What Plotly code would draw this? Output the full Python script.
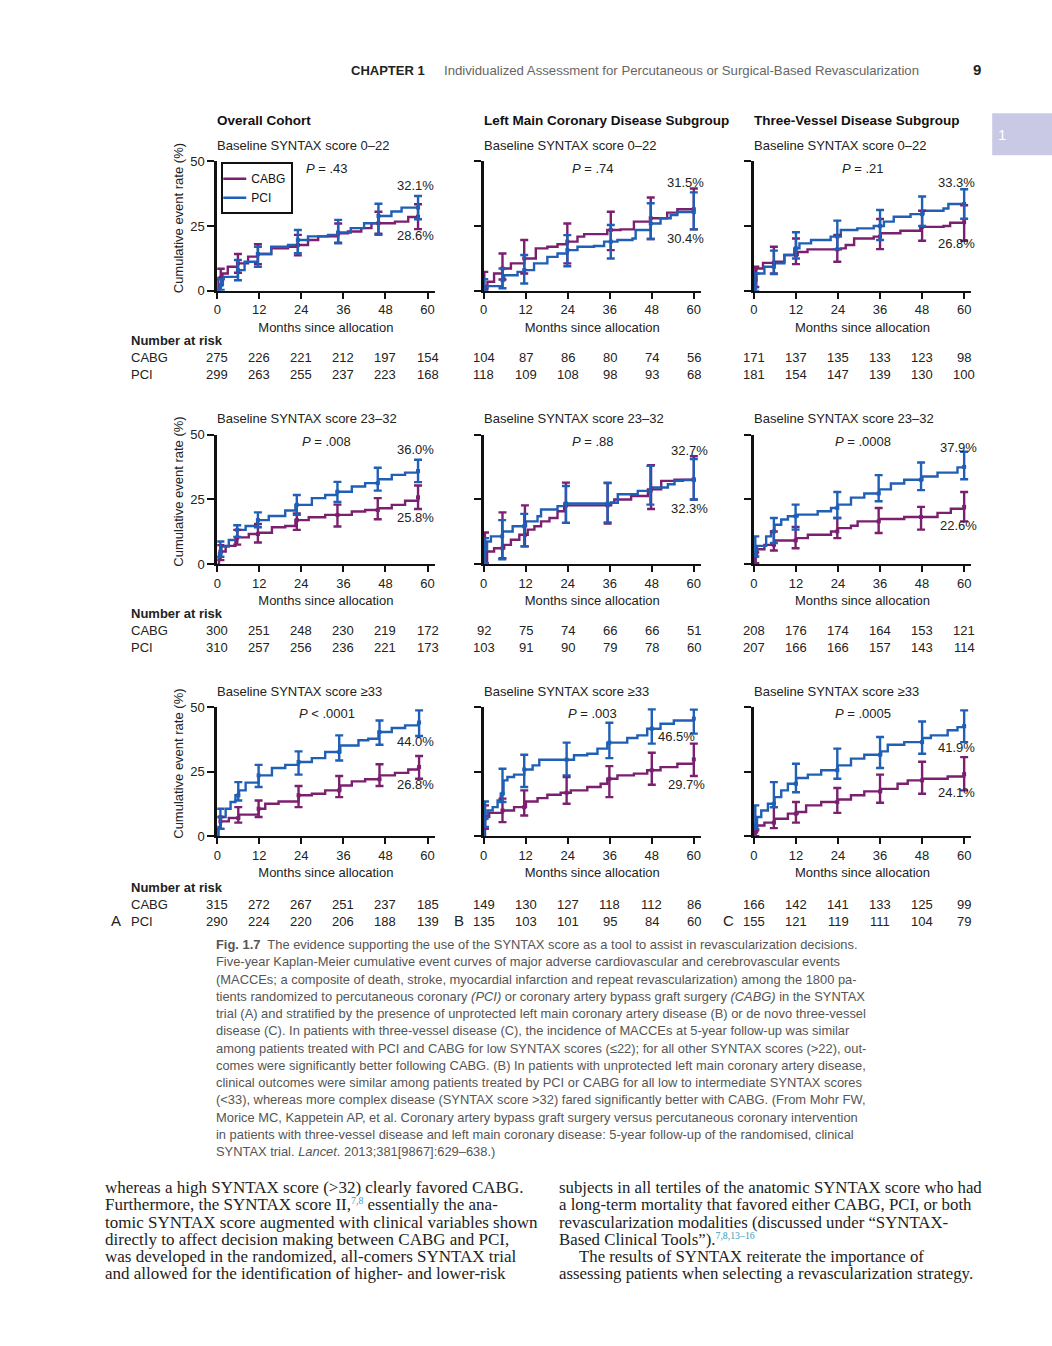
import plotly.graph_objects as go

W, H = 1052, 1346
CABG_COLOR = "#7b1f6f"
PCI_COLOR = "#1f5fb6"
SANS = "Liberation Sans, Arial, sans-serif"
SERIF = "Liberation Serif, Times New Roman, serif"

# ---------------- data (months, cumulative event rate %) ----------------
# A1: overall cohort, SYNTAX 0-22
A1_CABG_T = [0, 0.2, 1.5, 3.0, 5.9, 8.8, 11.6, 15.4, 20.2, 23.0, 25.9, 28.8, 34.5, 37.3, 41.1, 44.0, 50.7, 54.5, 57.3]
A1_CABG_Y = [0, 5.0, 6.7, 9.3, 10.6, 13.2, 14.2, 16.4, 17.0, 17.7, 19.6, 21.0, 22.2, 22.9, 24.2, 26.1, 26.7, 28.5, 28.6]
A1_PCI_T = [0, 0.7, 1.6, 5.9, 7.8, 11.6, 15.4, 20.2, 23.0, 25.9, 31.6, 34.5, 38.1, 41.9, 46.0, 49.7, 52.6, 57.3]
A1_PCI_Y = [0, 2.2, 5.4, 8.0, 11.2, 14.2, 17.0, 17.7, 19.6, 21.0, 21.6, 22.5, 24.2, 26.1, 28.9, 30.6, 32.1, 32.1]
A1_CABG_CI_T = [1.0, 5.9, 11.6, 23.0, 34.5, 46.0, 57.3]
A1_CABG_LO = [4.5, 7.0, 10.3, 13.7, 18.6, 22.0, 23.8]
A1_CABG_HI = [8.5, 14.2, 18.0, 21.6, 26.0, 30.5, 33.4]
A1_PCI_CI_T = [1.0, 5.9, 11.6, 23.0, 34.5, 46.0, 57.3]
A1_PCI_LO = [0.3, 4.1, 9.3, 14.5, 18.3, 21.6, 27.6]
A1_PCI_HI = [4.5, 11.9, 17.0, 23.5, 27.4, 33.6, 36.6]

# B1: left main, SYNTAX 0-22
B1_CABG_T = [0, 0.2, 1.1, 3.0, 5.4, 7.8, 11.6, 14.9, 18.2, 21.1, 23.9, 26.8, 28.7, 35.3, 39.1, 42.9, 47.7, 52.4, 55.3, 60]
B1_CABG_Y = [0, 1.5, 3.5, 6.7, 8.6, 10.6, 12.5, 16.4, 17.0, 18.0, 19.0, 20.9, 21.9, 23.5, 23.7, 26.7, 28.0, 30.2, 31.5, 31.5]
B1_PCI_T = [0, 0.2, 1.1, 5.4, 5.9, 9.7, 11.6, 14.4, 18.2, 21.1, 23.9, 26.8, 31.5, 34.4, 38.2, 42.5, 43.4, 47.7, 50.5, 53.4, 55.3, 60]
B1_PCI_Y = [0, 0.9, 1.8, 4.1, 6.0, 7.3, 8.0, 10.6, 13.1, 14.4, 15.7, 17.0, 17.3, 19.0, 19.6, 20.2, 23.5, 26.0, 28.0, 29.2, 30.4, 30.4]
B1_CABG_CI_T = [0.2, 5.4, 11.6, 23.9, 36.3, 47.7, 60]
B1_CABG_LO = [0.5, 4.4, 6.7, 10.6, 15.7, 20.0, 23.7]
B1_CABG_HI = [7.3, 14.4, 19.6, 26.0, 30.5, 36.0, 39.5]
B1_PCI_CI_T = [0.2, 5.4, 11.6, 23.9, 36.3, 47.7, 60]
B1_PCI_LO = [0.0, 1.0, 2.8, 9.5, 12.5, 20.0, 23.7]
B1_PCI_HI = [4.5, 8.6, 13.8, 21.5, 25.4, 33.8, 38.0]

# C1: three-vessel, SYNTAX 0-22
C1_CABG_T = [0, 0.4, 0.7, 2.6, 5.9, 8.7, 12.5, 15.3, 24.8, 26.2, 28.6, 34.2, 36.1, 41.8, 47.5, 54.1, 56.0, 60]
C1_CABG_Y = [0, 4.1, 8.6, 10.8, 11.2, 13.8, 15.0, 16.0, 16.4, 17.7, 20.2, 20.9, 22.2, 23.2, 24.7, 25.0, 26.3, 26.5]
C1_PCI_T = [0, 0.4, 0.7, 3.0, 5.9, 8.7, 11.5, 13.0, 16.3, 21.9, 24.8, 29.5, 34.2, 37.1, 39.9, 44.7, 48.4, 54.1, 55.5, 60]
C1_PCI_Y = [0, 1.5, 6.7, 9.3, 10.6, 13.8, 16.4, 18.3, 19.6, 20.9, 23.5, 24.1, 25.0, 26.7, 28.6, 29.6, 30.9, 31.8, 33.5, 33.5]
C1_CABG_CI_T = [0.4, 5.7, 12.0, 23.8, 36.0, 48.0, 60]
C1_CABG_LO = [1.5, 6.7, 10.3, 11.2, 16.1, 19.3, 19.3]
C1_CABG_HI = [9.3, 17.0, 20.2, 21.6, 27.7, 30.9, 33.0]
C1_PCI_CI_T = [0.4, 5.7, 12.0, 23.8, 36.0, 48.0, 60]
C1_PCI_LO = [0.0, 6.5, 12.5, 16.1, 19.6, 25.0, 27.8]
C1_PCI_HI = [6.7, 15.5, 22.6, 27.1, 31.2, 36.4, 39.2]

# A2: overall cohort, SYNTAX 23-32
A2_CABG_T = [0, 0.5, 0.9, 2.4, 5.2, 9.0, 11.8, 15.6, 19.4, 22.3, 26.1, 30.8, 38.4, 42.2, 46.0, 49.8, 53.6, 57.3]
A2_CABG_Y = [0, 2.2, 4.8, 7.0, 10.3, 11.6, 12.1, 14.2, 14.7, 17.0, 18.1, 19.0, 20.3, 20.9, 21.6, 22.9, 24.5, 25.8]
A2_PCI_T = [0, 0.5, 1.2, 3.3, 5.7, 8.1, 11.4, 14.7, 19.4, 22.3, 27.0, 30.8, 34.1, 38.4, 42.2, 46.0, 49.8, 53.6, 57.3]
A2_PCI_Y = [2.5, 4.1, 6.7, 9.3, 13.2, 14.7, 17.0, 18.6, 20.7, 22.9, 25.5, 26.7, 28.0, 30.0, 31.3, 32.8, 34.5, 35.4, 36.0]
A2_CABG_CI_T = [0.9, 5.7, 11.6, 22.7, 34.3, 45.8, 57.3]
A2_CABG_LO = [1.5, 7.5, 8.3, 13.2, 14.5, 17.3, 21.3]
A2_CABG_HI = [7.3, 13.2, 15.5, 19.6, 23.0, 25.5, 30.4]
A2_PCI_CI_T = [0.9, 5.7, 11.6, 22.7, 34.3, 45.8, 57.3]
A2_PCI_LO = [2.8, 10.5, 14.2, 19.0, 24.0, 28.4, 31.7]
A2_PCI_HI = [8.7, 15.0, 20.0, 26.7, 31.8, 37.3, 40.4]

# B2: left main, SYNTAX 23-32
B2_CABG_T = [0, 0.4, 1.0, 3.0, 5.9, 7.8, 10.2, 12.6, 14.5, 16.4, 18.8, 21.1, 23.0, 36.4, 37.3, 42.1, 46.9, 50.7, 54.5, 60]
B2_CABG_Y = [0, 0.9, 4.8, 6.1, 7.4, 9.4, 11.3, 13.3, 14.6, 16.5, 17.8, 20.4, 22.7, 23.7, 25.0, 26.3, 28.9, 32.2, 32.6, 32.8]
B2_PCI_T = [0, 0.4, 1.0, 2.1, 5.4, 8.3, 12.1, 15.4, 16.4, 21.1, 23.0, 36.4, 38.3, 44.0, 47.8, 52.6, 54.5, 56.9, 60]
B2_PCI_Y = [0, 5.5, 8.7, 10.7, 12.6, 14.6, 16.5, 18.5, 21.1, 22.4, 23.4, 23.7, 27.0, 28.3, 29.6, 30.9, 32.2, 32.5, 32.5]
B2_CABG_CI_T = [0.4, 5.4, 11.8, 23.5, 35.4, 47.8, 60]
B2_CABG_LO = [0.0, 2.2, 6.8, 15.9, 15.7, 21.3, 25.0]
B2_CABG_HI = [12.2, 20.0, 22.7, 31.5, 31.3, 38.3, 41.7]
B2_PCI_CI_T = [0.4, 5.3, 11.6, 23.5, 35.4, 47.6, 60]
B2_PCI_LO = [0.3, 1.8, 6.8, 15.9, 16.1, 23.0, 25.0]
B2_PCI_HI = [10.0, 17.0, 19.4, 30.2, 31.5, 38.0, 40.6]

# C2: three-vessel, SYNTAX 23-32
C2_CABG_T = [0, 0.4, 0.9, 3.0, 5.9, 12.1, 15.4, 22.0, 23.9, 27.7, 29.6, 35.8, 42.9, 52.4, 56.2, 60]
C2_CABG_Y = [0, 2.9, 5.7, 7.4, 9.1, 10.0, 11.3, 12.6, 13.9, 14.8, 16.5, 17.4, 18.2, 19.8, 21.4, 22.1]
C2_PCI_T = [0, 0.4, 0.9, 3.5, 4.9, 5.9, 7.8, 9.7, 12.5, 18.2, 22.0, 23.9, 27.7, 31.5, 35.8, 39.1, 42.9, 48.1, 52.4, 58.1, 60]
C2_PCI_Y = [0, 4.2, 7.0, 10.7, 12.6, 15.2, 17.2, 18.5, 19.1, 20.4, 21.7, 23.0, 25.7, 27.3, 28.9, 31.2, 32.6, 33.9, 35.4, 37.4, 37.6]
C2_CABG_CI_T = [0.4, 5.7, 11.9, 23.8, 35.6, 47.7, 60]
C2_CABG_LO = [0.3, 5.2, 6.1, 10.0, 12.0, 13.3, 16.5]
C2_CABG_HI = [4.5, 12.6, 14.3, 17.8, 21.7, 22.1, 27.9]
C2_PCI_CI_T = [0.4, 5.7, 11.9, 23.8, 35.6, 47.7, 60]
C2_PCI_LO = [2.9, 8.1, 13.3, 17.8, 24.3, 28.6, 32.8]
C2_PCI_HI = [10.7, 17.8, 23.0, 27.9, 34.4, 39.3, 43.5]

# A3: overall cohort, SYNTAX >=33
A3_CABG_T = [0, 0.3, 0.9, 3.3, 6.2, 11.8, 13.7, 17.5, 23.2, 27.0, 30.8, 35.1, 38.4, 42.2, 46.4, 50.7, 54.5, 57.3]
A3_CABG_Y = [0, 2.8, 5.7, 7.0, 8.3, 10.6, 12.5, 13.4, 15.8, 16.4, 17.7, 19.6, 21.2, 22.0, 23.5, 24.5, 25.8, 26.8]
A3_PCI_T = [0, 0.3, 0.9, 2.4, 3.8, 5.2, 6.2, 8.1, 11.8, 15.6, 19.4, 23.2, 27.0, 30.8, 35.1, 40.3, 43.1, 46.0, 49.8, 53.6, 57.3]
A3_PCI_Y = [0, 3.5, 7.4, 10.6, 13.2, 15.8, 17.7, 20.7, 23.5, 26.4, 27.6, 28.7, 30.2, 32.6, 35.1, 37.1, 37.7, 40.3, 41.9, 42.9, 44.0]
A3_CABG_CI_T = [0.9, 6.0, 11.8, 23.2, 34.8, 46.3, 57.6]
A3_CABG_LO = [2.8, 5.2, 7.4, 11.2, 15.1, 19.4, 22.2]
A3_CABG_HI = [7.4, 11.2, 13.8, 19.4, 23.3, 27.8, 31.0]
A3_PCI_CI_T = [0.9, 6.0, 11.8, 23.2, 34.8, 46.3, 57.6]
A3_PCI_LO = [2.8, 13.8, 19.0, 23.8, 29.3, 35.4, 38.8]
A3_PCI_HI = [10.6, 20.9, 27.6, 32.8, 39.0, 44.8, 48.7]

# B3: left main, SYNTAX >=33
B3_CABG_T = [0, 0.4, 1.6, 5.4, 8.7, 12.1, 15.4, 18.2, 22.0, 24.9, 29.6, 33.4, 35.3, 38.2, 42.9, 46.7, 50.5, 55.3, 60]
B3_CABG_Y = [0, 7.4, 9.0, 9.9, 11.2, 13.4, 14.7, 16.0, 16.8, 17.7, 19.0, 20.3, 22.2, 23.5, 24.2, 25.5, 26.7, 28.0, 29.7]
B3_PCI_T = [0, 0.1, 0.4, 1.1, 2.6, 4.0, 4.9, 5.7, 6.8, 8.7, 11.6, 14.0, 15.9, 25.8, 29.6, 32.5, 35.3, 41.0, 43.9, 46.7, 50.5, 54.3, 60]
B3_PCI_Y = [0, 3.0, 6.7, 9.9, 11.2, 13.8, 16.4, 21.6, 22.9, 23.8, 25.8, 27.4, 29.6, 31.3, 31.9, 33.9, 36.2, 38.0, 39.0, 41.6, 43.5, 44.8, 45.5]
B3_CABG_CI_T = [0.4, 5.4, 11.6, 23.7, 35.9, 48.0, 60]
B3_CABG_LO = [2.8, 5.4, 8.0, 12.5, 15.1, 19.9, 23.3]
B3_CABG_HI = [11.9, 14.5, 17.7, 22.9, 27.1, 32.3, 35.8]
B3_PCI_CI_T = [0.4, 5.4, 11.6, 23.7, 35.9, 48.0, 60]
B3_PCI_LO = [3.5, 13.2, 19.0, 23.5, 30.2, 35.8, 39.7]
B3_PCI_HI = [13.4, 26.1, 31.5, 36.2, 43.9, 49.1, 49.0]

# C3: three-vessel, SYNTAX >=33
C3_CABG_T = [0, 0.4, 0.9, 3.0, 5.9, 9.7, 12.5, 14.9, 19.2, 23.9, 27.7, 31.5, 36.3, 41.0, 43.9, 48.1, 55.3, 60]
C3_CABG_Y = [0, 1.5, 4.1, 5.2, 6.7, 8.7, 9.3, 11.9, 13.2, 14.2, 15.8, 17.3, 18.3, 20.3, 21.6, 22.2, 23.1, 24.0]
C3_PCI_T = [0, 0.4, 0.9, 2.1, 4.0, 5.9, 7.8, 9.7, 12.1, 15.4, 19.2, 23.9, 27.7, 31.5, 36.3, 38.2, 42.9, 48.1, 50.5, 55.3, 58.1, 60]
C3_PCI_Y = [0, 4.1, 7.4, 9.9, 12.5, 15.1, 17.7, 20.3, 22.5, 23.8, 25.5, 27.4, 30.0, 31.5, 32.8, 35.4, 36.4, 38.0, 39.0, 41.0, 42.2, 42.6]
C3_CABG_CI_T = [0.4, 5.7, 12.0, 23.8, 36.0, 48.0, 60]
C3_CABG_LO = [0.0, 3.1, 5.2, 9.0, 12.9, 16.4, 17.7]
C3_CABG_HI = [2.2, 11.2, 13.2, 18.6, 23.8, 28.8, 30.6]
C3_PCI_CI_T = [0.4, 5.7, 12.0, 23.8, 36.0, 48.0, 60]
C3_PCI_LO = [2.8, 11.2, 17.0, 22.2, 26.4, 31.9, 36.4]
C3_PCI_HI = [11.9, 20.9, 28.0, 33.9, 38.4, 44.4, 48.7]

# labels
COL_TITLES = ["Overall Cohort", "Left Main Coronary Disease Subgroup", "Three-Vessel Disease Subgroup"]
ROW_TITLES = ["Baseline SYNTAX score 0–22", "Baseline SYNTAX score 23–32", "Baseline SYNTAX score ≥33"]
P_TEXT = ["<i>P</i> = .43", "<i>P</i> = .74", "<i>P</i> = .21",
          "<i>P</i> = .008", "<i>P</i> = .88", "<i>P</i> = .0008",
          "<i>P</i> &lt; .0001", "<i>P</i> = .003", "<i>P</i> = .0005"]
END_HI = ["32.1%", "31.5%", "33.3%", "36.0%", "32.7%", "37.9%", "44.0%", "46.5%", "41.9%"]
END_LO = ["28.6%", "30.4%", "26.8%", "25.8%", "32.3%", "22.6%", "26.8%", "29.7%", "24.1%"]
X_TICKS = [0, 12, 24, 36, 48, 60]
Y_TICKS = [0, 25, 50]
PANEL_LETTERS = ["A", "B", "C"]

RISK_CABG = [
    [275, 226, 221, 212, 197, 154], [104, 87, 86, 80, 74, 56], [171, 137, 135, 133, 123, 98],
    [300, 251, 248, 230, 219, 172], [92, 75, 74, 66, 66, 51], [208, 176, 174, 164, 153, 121],
    [315, 272, 267, 251, 237, 185], [149, 130, 127, 118, 112, 86], [166, 142, 141, 133, 125, 99],
]
RISK_PCI = [
    [299, 263, 255, 237, 223, 168], [118, 109, 108, 98, 93, 68], [181, 154, 147, 139, 130, 100],
    [310, 257, 256, 236, 221, 173], [103, 91, 90, 79, 78, 60], [207, 166, 166, 157, 143, 114],
    [290, 224, 220, 206, 188, 139], [135, 103, 101, 95, 84, 60], [155, 121, 119, 111, 104, 79],
]

PANELS = [
    (A1_CABG_T, A1_CABG_Y, A1_PCI_T, A1_PCI_Y, A1_CABG_CI_T, A1_CABG_LO, A1_CABG_HI, A1_PCI_CI_T, A1_PCI_LO, A1_PCI_HI),
    (B1_CABG_T, B1_CABG_Y, B1_PCI_T, B1_PCI_Y, B1_CABG_CI_T, B1_CABG_LO, B1_CABG_HI, B1_PCI_CI_T, B1_PCI_LO, B1_PCI_HI),
    (C1_CABG_T, C1_CABG_Y, C1_PCI_T, C1_PCI_Y, C1_CABG_CI_T, C1_CABG_LO, C1_CABG_HI, C1_PCI_CI_T, C1_PCI_LO, C1_PCI_HI),
    (A2_CABG_T, A2_CABG_Y, A2_PCI_T, A2_PCI_Y, A2_CABG_CI_T, A2_CABG_LO, A2_CABG_HI, A2_PCI_CI_T, A2_PCI_LO, A2_PCI_HI),
    (B2_CABG_T, B2_CABG_Y, B2_PCI_T, B2_PCI_Y, B2_CABG_CI_T, B2_CABG_LO, B2_CABG_HI, B2_PCI_CI_T, B2_PCI_LO, B2_PCI_HI),
    (C2_CABG_T, C2_CABG_Y, C2_PCI_T, C2_PCI_Y, C2_CABG_CI_T, C2_CABG_LO, C2_CABG_HI, C2_PCI_CI_T, C2_PCI_LO, C2_PCI_HI),
    (A3_CABG_T, A3_CABG_Y, A3_PCI_T, A3_PCI_Y, A3_CABG_CI_T, A3_CABG_LO, A3_CABG_HI, A3_PCI_CI_T, A3_PCI_LO, A3_PCI_HI),
    (B3_CABG_T, B3_CABG_Y, B3_PCI_T, B3_PCI_Y, B3_CABG_CI_T, B3_CABG_LO, B3_CABG_HI, B3_PCI_CI_T, B3_PCI_LO, B3_PCI_HI),
    (C3_CABG_T, C3_CABG_Y, C3_PCI_T, C3_PCI_Y, C3_CABG_CI_T, C3_CABG_LO, C3_CABG_HI, C3_PCI_CI_T, C3_PCI_LO, C3_PCI_HI),
]

CAPTION = [
    "<b>Fig. 1.7</b>  The evidence supporting the use of the SYNTAX score as a tool to assist in revascularization decisions.",
    "Five-year Kaplan-Meier cumulative event curves of major adverse cardiovascular and cerebrovascular events",
    "(MACCEs; a composite of death, stroke, myocardial infarction and repeat revascularization) among the 1800 pa-",
    "tients randomized to percutaneous coronary <i>(PCI)</i> or coronary artery bypass graft surgery <i>(CABG)</i> in the SYNTAX",
    "trial (A) and stratified by the presence of unprotected left main coronary artery disease (B) or de novo three-vessel",
    "disease (C). In patients with three-vessel disease (C), the incidence of MACCEs at 5-year follow-up was similar",
    "among patients treated with PCI and CABG for low SYNTAX scores (≤22); for all other SYNTAX scores (&gt;22), out-",
    "comes were significantly better following CABG. (B) In patients with unprotected left main coronary artery disease,",
    "clinical outcomes were similar among patients treated by PCI or CABG for all low to intermediate SYNTAX scores",
    "(&lt;33), whereas more complex disease (SYNTAX score &gt;32) fared significantly better with CABG. (From Mohr FW,",
    "Morice MC, Kappetein AP, et al. Coronary artery bypass graft surgery versus percutaneous coronary intervention",
    "in patients with three-vessel disease and left main coronary disease: 5-year follow-up of the randomised, clinical",
    "SYNTAX trial. <i>Lancet</i>. 2013;381[9867]:629–638.)",
]
SUP = "<span style='color:#3a9cbc;font-size:14px'><sup>%s</sup></span>"
BODY_LEFT = [
    "whereas a high SYNTAX score (&gt;32) clearly favored CABG.",
    "Furthermore, the SYNTAX score II," + SUP % "7,8" + " essentially the ana-",
    "tomic SYNTAX score augmented with clinical variables shown",
    "directly to affect decision making between CABG and PCI,",
    "was developed in the randomized, all-comers SYNTAX trial",
    "and allowed for the identification of higher- and lower-risk",
]
BODY_RIGHT = [
    "subjects in all tertiles of the anatomic SYNTAX score who had",
    "a long-term mortality that favored either CABG, PCI, or both",
    "revascularization modalities (discussed under “SYNTAX-",
    "Based Clinical Tools”)." + SUP % "7,8,13–16",
    "The results of SYNTAX reiterate the importance of",
    "assessing patients when selecting a revascularization strategy.",
]

# ---------------- layout geometry (target pixels in the page) ----------------
COL_X0 = [216, 482, 752]
PLOT_W = 217
X_MAX = 62
ROW_Y0 = [290.5, 563.5, 835.5]
ROW_YT = [161, 434.5, 706.5]
RISK_Y = [(340, 357, 374), (613, 630, 647), (887, 904, 921)]

# the photographed page is slightly shrunk/shifted relative to figure pixels; compensate
X_OFF, X_SCALE = 3.0, 0.995
Y_OFF, Y_SCALE = 6.8, 0.9884


def px(x):
    return ((x - X_OFF) / X_SCALE) / W


def py(y):
    return 1 - ((y - Y_OFF) / Y_SCALE) / H


def step_at(T, Y, t):
    v = Y[0]
    for tt, yy in zip(T, Y):
        if tt <= t + 1e-9:
            v = yy
    return v


fig = go.Figure()
annotations = []


def ann(text, x, y, size=13, color="#222", xanchor="left", family=SANS, **kw):
    if xanchor == "left":
        x -= 2
    annotations.append(dict(text=text, x=px(x), y=py(y), xref="paper", yref="paper",
                            xanchor=xanchor, yanchor="middle", showarrow=False,
                            font=dict(size=size, color=color, family=family), **kw))


layout_axes = {}
for r in range(3):
    for c in range(3):
        i = r * 3 + c
        sfx = "" if i == 0 else str(i + 1)
        xname, yname = "x" + sfx, "y" + sfx
        (cT, cY, pT, pY, cct, clo, chi, pct, plo, phi) = PANELS[i]
        show_leg = i == 0
        fig.add_trace(go.Scatter(x=cT, y=cY, mode="lines", line=dict(color=CABG_COLOR, width=2.4, shape="hv"),
                                 name="CABG", showlegend=show_leg, xaxis=xname, yaxis=yname, legendrank=1))
        fig.add_trace(go.Scatter(x=pT, y=pY, mode="lines", line=dict(color=PCI_COLOR, width=2.4, shape="hv"),
                                 name="PCI", showlegend=show_leg, xaxis=xname, yaxis=yname, legendrank=2))
        for T, Yv, ct, lo, hi, col in ((cT, cY, cct, clo, chi, CABG_COLOR), (pT, pY, pct, plo, phi, PCI_COLOR)):
            centers = [step_at(T, Yv, t) for t in ct]
            up = [max(h - m, 0) for h, m in zip(hi, centers)]
            dn = [max(m - l, 0) for l, m in zip(lo, centers)]
            fig.add_trace(go.Scatter(x=ct, y=centers, mode="markers",
                                     marker=dict(color=col, size=4, symbol="square"),
                                     error_y=dict(type="data", symmetric=False, array=up, arrayminus=dn,
                                                  color=col, thickness=2.4, width=4),
                                     showlegend=False, xaxis=xname, yaxis=yname, cliponaxis=False))
        layout_axes["xaxis" + sfx] = dict(
            domain=[px(COL_X0[c]), px(COL_X0[c] + PLOT_W)], range=[0, X_MAX], anchor=yname,
            tickvals=X_TICKS, ticks="outside", ticklen=6, tickwidth=1.5, tickcolor="#111",
            showline=True, linecolor="#111", linewidth=2, showgrid=False, zeroline=False,
            tickfont=dict(size=13, color="#222", family=SANS),
            title=dict(text="Months since allocation", font=dict(size=13, color="#222", family=SANS), standoff=6),
        )
        layout_axes["yaxis" + sfx] = dict(
            domain=[py(ROW_Y0[r]), py(ROW_YT[r])], range=[0, 50], anchor=xname,
            tickvals=Y_TICKS, ticks="outside", ticklen=7, tickwidth=1.5, tickcolor="#111",
            showticklabels=(c == 0), showline=True, linecolor="#111", linewidth=3,
            showgrid=False, zeroline=False, tickfont=dict(size=13, color="#222", family=SANS),
        )
        # in-panel texts via the panel's own axes
        annotations.append(dict(text=P_TEXT[i], x=31.2, y=47.3, xref=xname, yref=yname, showarrow=False,
                                xanchor="center", yanchor="middle", font=dict(size=13, color="#222", family=SANS)))
        hi_pos = [(56.6, 40.5), (57.7, 42.0), (57.7, 42.0), (56.6, 44.4), (58.9, 44.0), (58.3, 45.2),
                  (56.6, 36.6), (55.1, 38.5), (57.7, 34.3)][i]
        lo_pos = [(56.6, 21.5), (57.7, 20.3), (57.7, 18.4), (56.6, 18.0), (58.9, 21.5), (58.3, 15.0),
                  (56.6, 20.0), (58.0, 20.0), (57.7, 16.9)][i]
        for txt, pos in ((END_HI[i], hi_pos), (END_LO[i], lo_pos)):
            annotations.append(dict(text=txt, x=pos[0], y=pos[1], xref=xname, yref=yname, showarrow=False,
                                    xanchor="center", yanchor="middle",
                                    font=dict(size=13, color="#222", family=SANS)))
        # number at risk
        ry = RISK_Y[r]
        for k, t in enumerate(X_TICKS):
            for val, yy in ((RISK_CABG[i][k], ry[1]), (RISK_PCI[i][k], ry[2])):
                annotations.append(dict(text=str(val), x=t, y=py(yy), xref=xname, yref="paper", showarrow=False,
                                        xanchor="center", yanchor="middle",
                                        font=dict(size=13, color="#222", family=SANS)))
        if c == 0:
            ann("Cumulative event rate (%)", 177, (ROW_Y0[r] + ROW_YT[r]) / 2 - 8, xanchor="center", textangle=-90)
    # row titles and at-risk headers
    for c in range(3):
        ann(ROW_TITLES[r], COL_X0[c], [145, 418, 691][r], size=13)
    ann("<b>Number at risk</b>", 130, RISK_Y[r][0], size=13)
    ann("CABG", 130, RISK_Y[r][1], size=13)
    ann("PCI", 130, RISK_Y[r][2], size=13)

for c in range(3):
    ann("<b>" + COL_TITLES[c] + "</b>", COL_X0[c], 120, size=13.5, color="#111")
for k, (lx) in enumerate([115, 457, 727]):
    ann(PANEL_LETTERS[k], lx, 920, size=15, xanchor="center")

# header
ann("<b>CHAPTER 1</b>", 350, 70, size=13, color="#222")
ann("Individualized Assessment for Percutaneous or Surgical-Based Revascularization", 442, 70, size=13.2, color="#666")
ann("<b>9</b>", 975, 69, size=15, color="#222", xanchor="center")
ann("1", 1000, 134, size=15, color="white", xanchor="center")

# caption
for k, line in enumerate(CAPTION):
    ann(line, 215, 944 + k * 17.25, size=12.9, color="#555")

# body text
for k, line in enumerate(BODY_LEFT):
    ann(line, 104, 1187 + k * 17.2, size=17, color="#222", family=SERIF)
for k, line in enumerate(BODY_RIGHT):
    ann(line, 577 if k == 4 else 557, 1187 + k * 17.2, size=16.8, color="#222", family=SERIF)

shapes = [dict(type="rect", xref="paper", yref="paper", x0=px(990), x1=1.02, y0=py(155), y1=py(113),
               fillcolor="#c9c9e6", line=dict(width=0), layer="below")]

fig.update_layout(
    width=W, height=H, margin=dict(l=0, r=0, t=0, b=0), autosize=False,
    paper_bgcolor="white", plot_bgcolor="white",
    font=dict(family=SANS, size=13, color="#222"),
    annotations=annotations, shapes=shapes,
    legend=dict(x=px(220), y=py(162), xanchor="left", yanchor="top", bordercolor="#111", borderwidth=2,
                bgcolor="white", font=dict(size=12, color="#111", family=SANS), itemwidth=30,
                indentation=-12, tracegroupgap=0, traceorder="normal"),
    **layout_axes,
)

fig.write_html("out.html", config={"displayModeBar": False},
               post_script="document.body.style.margin='0px';document.body.style.overflow='hidden';")
